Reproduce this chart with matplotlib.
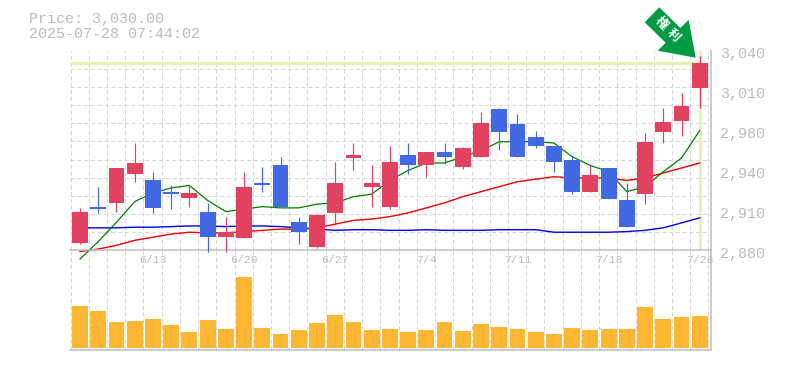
import numpy as np
import matplotlib
matplotlib.use("Agg")
import matplotlib.pyplot as plt
from matplotlib.patches import Polygon
from matplotlib.ticker import FixedLocator
from matplotlib.transforms import IdentityTransform, ScaledTranslation

W, H = 785, 370

opens = [2886,2915,2918,2941,2936,2927,2922,2911,2891,2890,2934,2948,2903,2883,2910,2954,2931,2915,2956,2948,2959,2947,2955,2993,2981,2971,2964,2952,2927,2946,2920,2925,2975,2984,3010]
highs = [2914,2931,2946,2966,2943,2932,2932,2918,2907,2943,2947,2955,2907,2908,2951,2966,2948,2964,2966,2959,2966,2963,2991,2994,2989,2976,2964,2956,2948,2946,2934,2974,2994,3006,3036]
lows = [2885,2910,2911,2935,2910,2913,2915,2879,2879,2890,2927,2915,2885,2882,2900,2944,2915,2913,2941,2939,2949,2945,2955,2960,2955,2962,2943,2925,2927,2921,2899,2917,2966,2972,2994]
closes = [2911,2913,2946,2950,2914,2925,2926,2891,2895,2931,2932,2915,2895,2908,2934,2956,2934,2951,2948,2959,2955,2962,2982,2975,2955,2964,2951,2927,2940,2921,2899,2967,2983,2996,3030]
ma_short = [2873,2887,2902.5,2919,2926,2930,2932,2920,2911,2913,2915,2914,2914,2917,2918,2923,2925,2936,2944,2950,2950,2955,2960,2967,2967,2967,2966,2955,2948,2943,2927,2931,2943,2954,2976]
ma_mid = [2879,2881,2884,2888,2890.5,2893,2894.5,2894,2894,2895,2896,2897,2897,2898,2901,2904,2905,2907,2910,2914,2918,2923,2927,2931,2935,2937,2939,2938,2938,2938,2936,2938,2942,2946,2950]
ma_long = [2898,2898,2898,2898.5,2898.5,2899,2899.5,2899.5,2899,2899.5,2899.5,2899,2898,2897,2896,2896.5,2896.5,2896,2896,2896.5,2896,2896,2896,2896.5,2896.5,2896.5,2894.5,2894.5,2894.5,2894.5,2895,2896,2898,2902,2906]
volumes = [42,37,26,27,29,23,16,28,19,71,20,14,18,25,33,26,18,19,16,18,26,17,24,21,19,16,14,20,18,19,19,41,29,31,32]
date_pos = [4, 9, 14, 19, 24, 29, 34]
date_labels = ["6/13","6/20","6/27","7/4","7/11","7/18","7/28"]
price_ticks = [3040,3008,2976,2944,2912,2880]
price_labels = ["3,040","3,010","2,980","2,940","2,910","2,880"]
title_lines = ["Price: 3,030.00", "2025-07-28 07:44:02"]
badge = ["権", "利"]

UP, DOWN = "#E2415F", "#4169E1"
GRID, AXIS, TXT = "#d6d6d6", "#bdbdbd", "#bcbcbc"
MONO = "Liberation Mono"

fig = plt.figure(figsize=(W/100, H/100), dpi=100, facecolor="white")

def rect(l, t, r, b):
    return [l/W, 1-b/H, (r-l)/W, (b-t)/H]

ax = fig.add_axes(rect(70, 50.7, 710.5, 250.3), zorder=3)
vol = fig.add_axes(rect(70, 250.3, 710.5, 349.7), zorder=2)
ax.patch.set_alpha(0)
vol.patch.set_alpha(0)

n = len(closes)
x = np.arange(n)
xlim = (-0.55, 34.59)
grid_x = np.arange(n + 1) - 0.52
BODY = 0.87
gridkw = dict(color=GRID, lw=0.72, linestyle=(0, (4, 2.8)))

for a in (ax, vol):
    a.set_xlim(*xlim)
    a.xaxis.set_minor_locator(FixedLocator(grid_x))
    a.grid(True, axis="x", which="minor", **gridkw)
    a.set_axisbelow(True)
    for s in ("top", "left"):
        a.spines[s].set_visible(False)
    for s in ("bottom", "right"):
        a.spines[s].set_color(AXIS)
        a.spines[s].set_linewidth(1.1)
    a.tick_params(axis="both", which="both", length=0)

# price panel
ax.set_ylim(2880, 3040)
ax.yaxis.tick_right()
ax.set_yticks(price_ticks, price_labels)
ax.yaxis.set_minor_locator(FixedLocator(np.linspace(2880, 3040, 12)))
ax.grid(True, axis="y", which="minor", **gridkw)
ax.set_xticks(date_pos, date_labels)
ax.tick_params(axis="y", which="major", pad=7, labelsize=10.8, labelcolor=TXT)
ax.tick_params(axis="x", which="major", pad=3.2, labelsize=8.2, labelcolor=TXT)
offset = ScaledTranslation(0, -2/72*0.72, fig.dpi_scale_trans)
for lab in ax.get_yticklabels():
    lab.set_fontfamily(MONO)
    lab.set_transform(lab.get_transform() + offset)
for lab in ax.get_xticklabels():
    lab.set_fontfamily(MONO)

BAND = "#E2F5AE"
ax.plot([xlim[0], x[-1]], [closes[-1], closes[-1]], color=BAND, lw=2.2, solid_capstyle="butt", zorder=1.5)
ax.axvline(x[-1], color=BAND, lw=2.2, zorder=1.5)

ax.plot(x, ma_long, color="#0000EE", lw=1.0, zorder=2)
ax.plot(x, ma_mid, color="#EE0000", lw=1.0, zorder=2.1, clip_on=False)
ax.plot(x, ma_short, color="#008000", lw=0.9, zorder=2.2, clip_on=False)

colors = [UP if c >= o else DOWN for o, c in zip(opens, closes)]
ax.vlines(x, lows, highs, colors=colors, lw=0.85, zorder=3, clip_on=False)
ax.bar(x, np.array(closes) - np.array(opens), bottom=opens, width=BODY, color=colors, lw=0, zorder=3.1)

# volume panel
vol.set_ylim(-1.9, 97.5)
vol.set_xticks([])
vol.set_yticks([])
vol.bar(x, volumes, width=BODY, color="#FFB733", lw=0, zorder=3)

# title
fig.text(29/W, 1-23/H, title_lines[0], family=MONO, fontsize=10.8, color=TXT, va="baseline")
fig.text(29/W, 1-38/H, title_lines[1], family=MONO, fontsize=10.8, color=TXT, va="baseline")

# arrow badge
pts = np.array([(659.3,7.3),(644.7,22.3),(665.7,42.7),(657.7,50.7),(695.7,57.7),(688.7,20),(680.3,28)])
pts[:,1] = H - pts[:,1]
fig.add_artist(Polygon(pts, closed=True, transform=IdentityTransform(), facecolor="#009944", edgecolor="none", zorder=10))
for ch, (bx, by) in zip(badge, [(661, 23), (673, 35)]):
    fig.text(bx/W, 1-by/H, ch, family="Noto Sans CJK JP", fontweight="bold", fontsize=9, color="white",
             rotation=-45, rotation_mode="anchor", ha="center", va="center", zorder=11)

fig.savefig("out.png", dpi=100, facecolor="white")
